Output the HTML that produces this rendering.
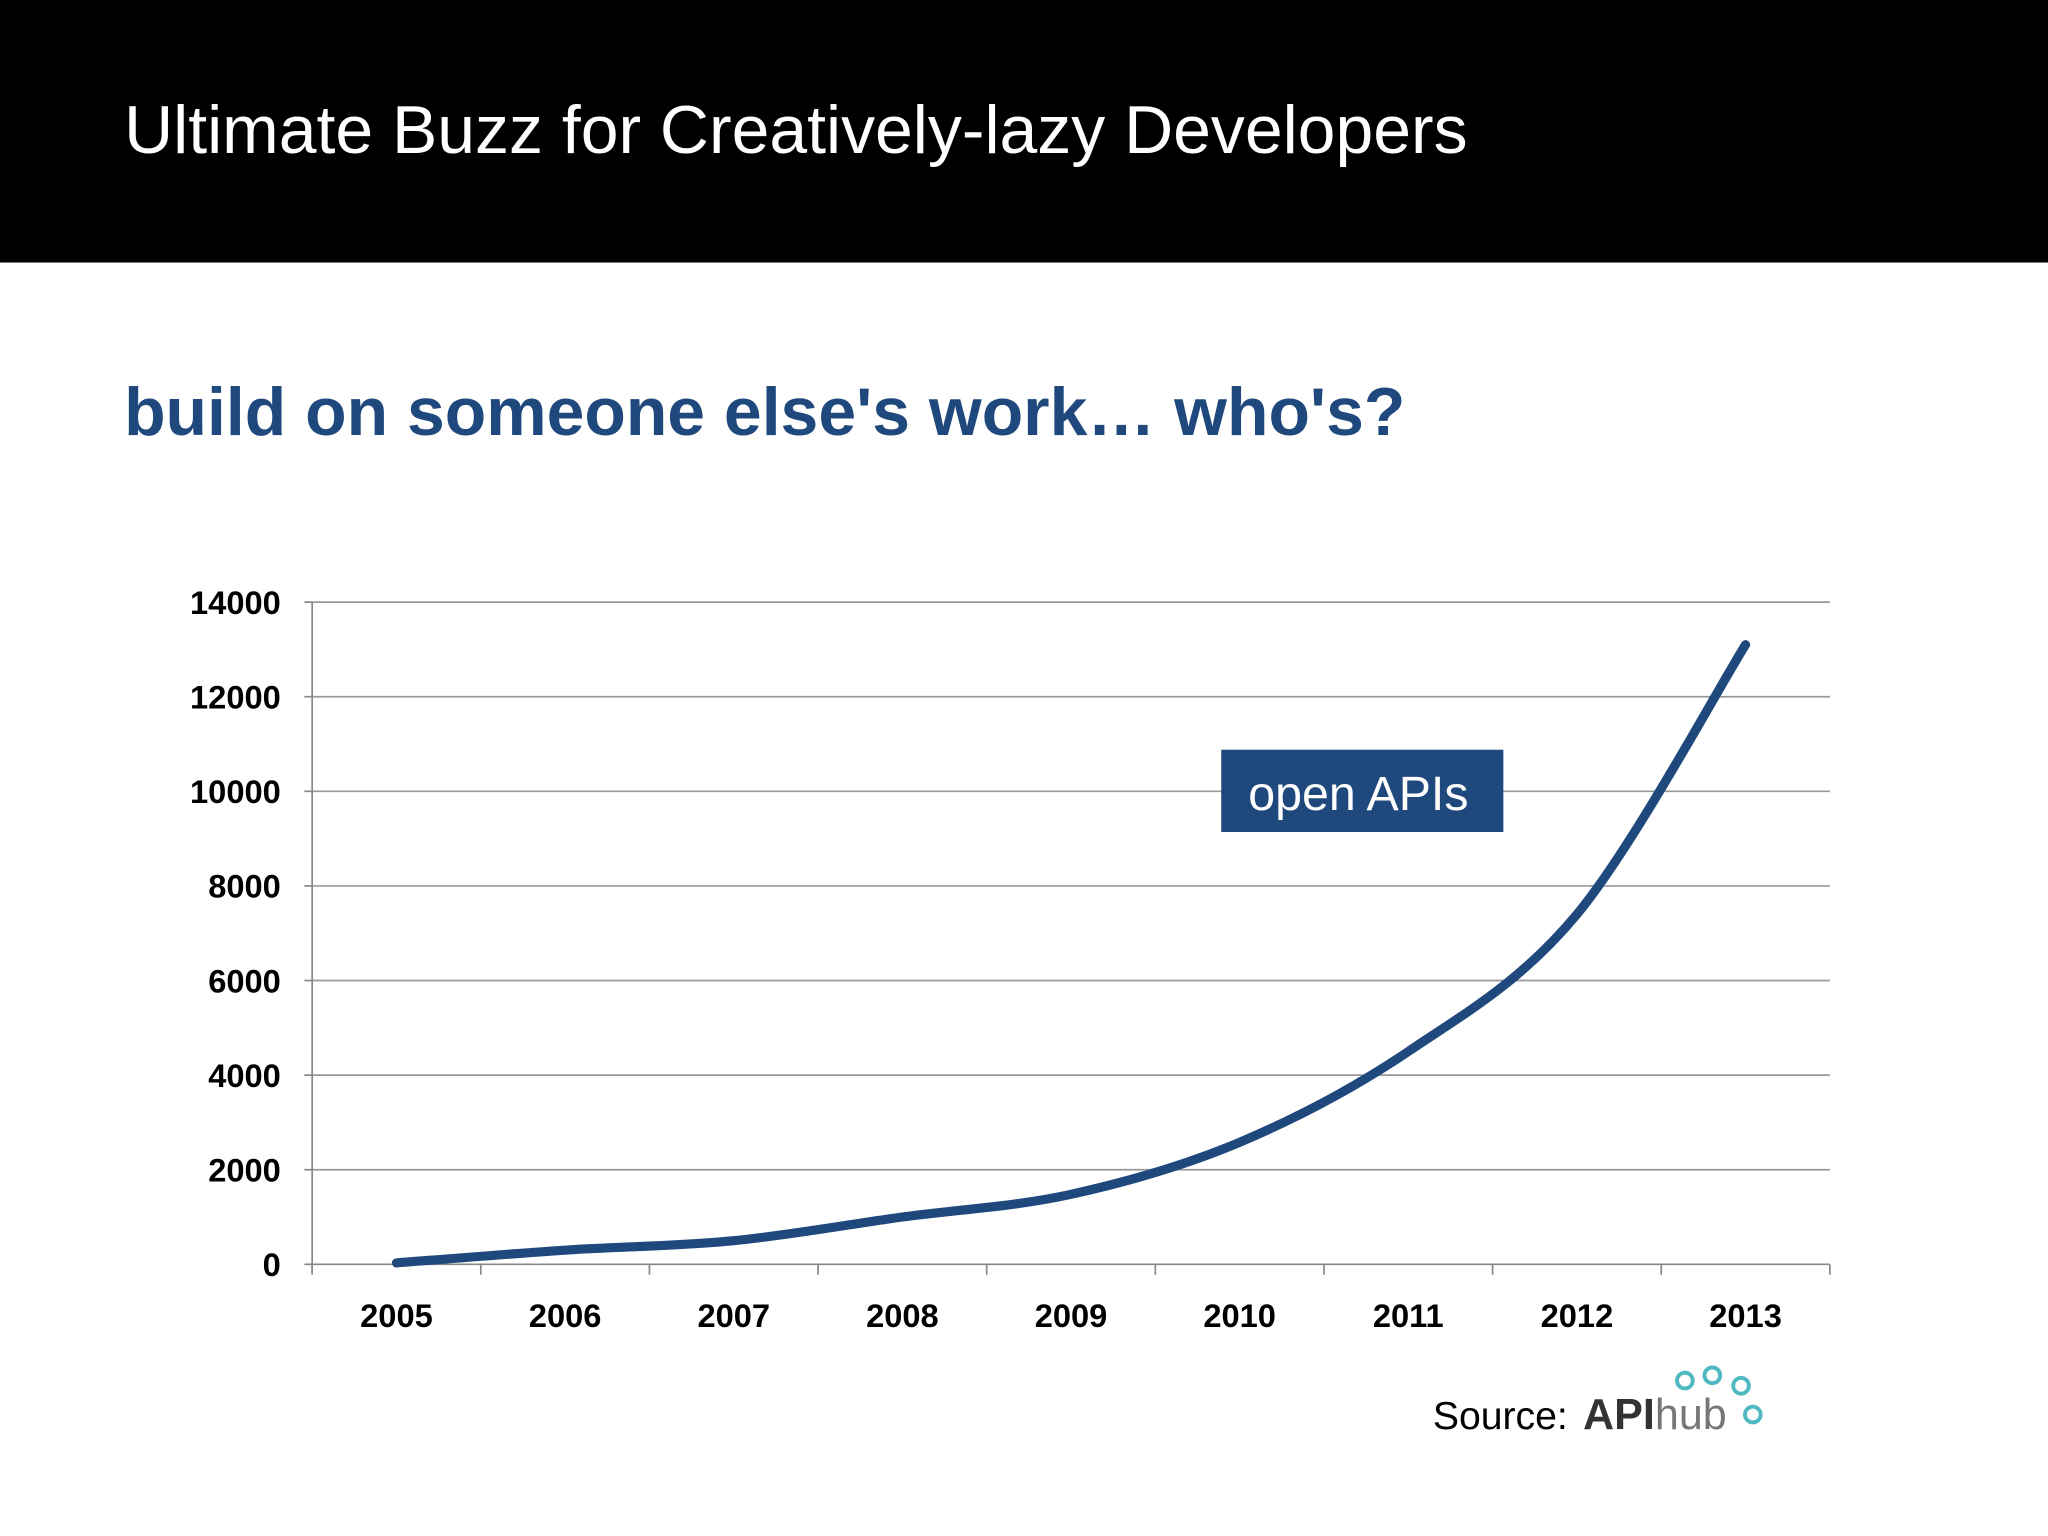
<!DOCTYPE html>
<html><head><meta charset="utf-8"><style>
html,body{margin:0;padding:0;background:#fff}
svg{display:block;font-family:"Liberation Sans",Arial,sans-serif}
</style></head><body>
<svg width="2048" height="1536" viewBox="0 0 1568 1176" xmlns="http://www.w3.org/2000/svg">
<rect x="0" y="0" width="1568" height="201" fill="#000"/>
<text x="95" y="117" font-size="52" fill="#fff">Ultimate Buzz for Creatively-lazy Developers</text>
<text x="95" y="333" font-size="52" font-weight="bold" fill="#1f497d">build on someone else's work… who's?</text>
<g id="chart"></g>
<g>
<rect x="935" y="574" width="216" height="63" fill="#1f497d"/>
<text x="1040" y="620" font-size="37" fill="#fff" text-anchor="middle">open APIs</text>
</g>
<g>
<text x="1097" y="1094" font-size="30" fill="#000">Source:</text>
<text x="1212" y="1094" font-size="33" font-weight="bold" fill="#333">API<tspan font-weight="normal" fill="#777">hub</tspan></text>
<g fill="none" stroke="#4fb8c0" stroke-width="3">
<circle cx="1290" cy="1057" r="6"/><circle cx="1311" cy="1053" r="6"/><circle cx="1333" cy="1061" r="6"/><circle cx="1342" cy="1083" r="6"/>
</g>
</g>
</svg>
<script>
const years=["2005","2006","2007","2008","2009","2010","2011","2012","2013"];
const apiCounts=[30,300,500,1000,1480,2580,4500,7400,13100];
const yTicks=[0,2000,4000,6000,8000,10000,12000,14000];
const NS="http://www.w3.org/2000/svg";
const g=document.getElementById('chart');
const L=239,R=1401,T=461,B=968,YMAX=14000;
const bw=(R-L)/years.length;
const xs=i=>L+bw*(i+0.5);
const ys=v=>B-(v/YMAX)*(B-T);
function mk(t,a,p){const e=document.createElementNS(NS,t);for(const k in a)e.setAttribute(k,a[k]);(p||g).appendChild(e);return e;}
yTicks.forEach(v=>{
 const y=ys(v);
 const ln=mk('line',{x1:L,x2:R,y1:y,y2:y,stroke:v===0?'#888':'#999','stroke-width':1.3});
 
 
 const t=mk('text',{x:215,y:y+9,'font-size':25,'font-weight':'bold','text-anchor':'end',fill:'#000'});
 t.textContent=v;
 
 
 const tk=mk('line',{x1:233,x2:239,y1:y,y2:y,stroke:'#888','stroke-width':1.3});
 
 
});
const ax=mk('line',{x1:L,x2:L,y1:T,y2:B+6,stroke:'#888','stroke-width':1.3});


for(let i=0;i<=years.length;i++){
 const x=L+bw*i;
 const tk=mk('line',{x1:x,x2:x,y1:B,y2:B+8,stroke:'#888','stroke-width':1.3});
 
 
}
years.forEach((yr,i)=>{
 const t=mk('text',{x:xs(i),y:1016,'font-size':25,'font-weight':'bold','text-anchor':'middle',fill:'#000'});
 t.textContent=yr;
 
 
});
const P=apiCounts.map((v,i)=>[xs(i),ys(v)]);
let d='M'+P[0][0]+','+P[0][1];
for(let i=0;i<P.length-1;i++){
 const p0=P[Math.max(0,i-1)],p1=P[i],p2=P[i+1],p3=P[Math.min(P.length-1,i+2)];
 const c1=[p1[0]+(p2[0]-p0[0])/6,p1[1]+(p2[1]-p0[1])/6];
 const c2=[p2[0]-(p3[0]-p1[0])/6,p2[1]-(p3[1]-p1[1])/6];
 d+=` C${c1[0]},${c1[1]} ${c2[0]},${c2[1]} ${p2[0]},${p2[1]}`;
}
const line=mk('path',{d:d,fill:'none',stroke:'#1f497d','stroke-width':7,'stroke-linecap':'round'});


</script>
</body></html>
